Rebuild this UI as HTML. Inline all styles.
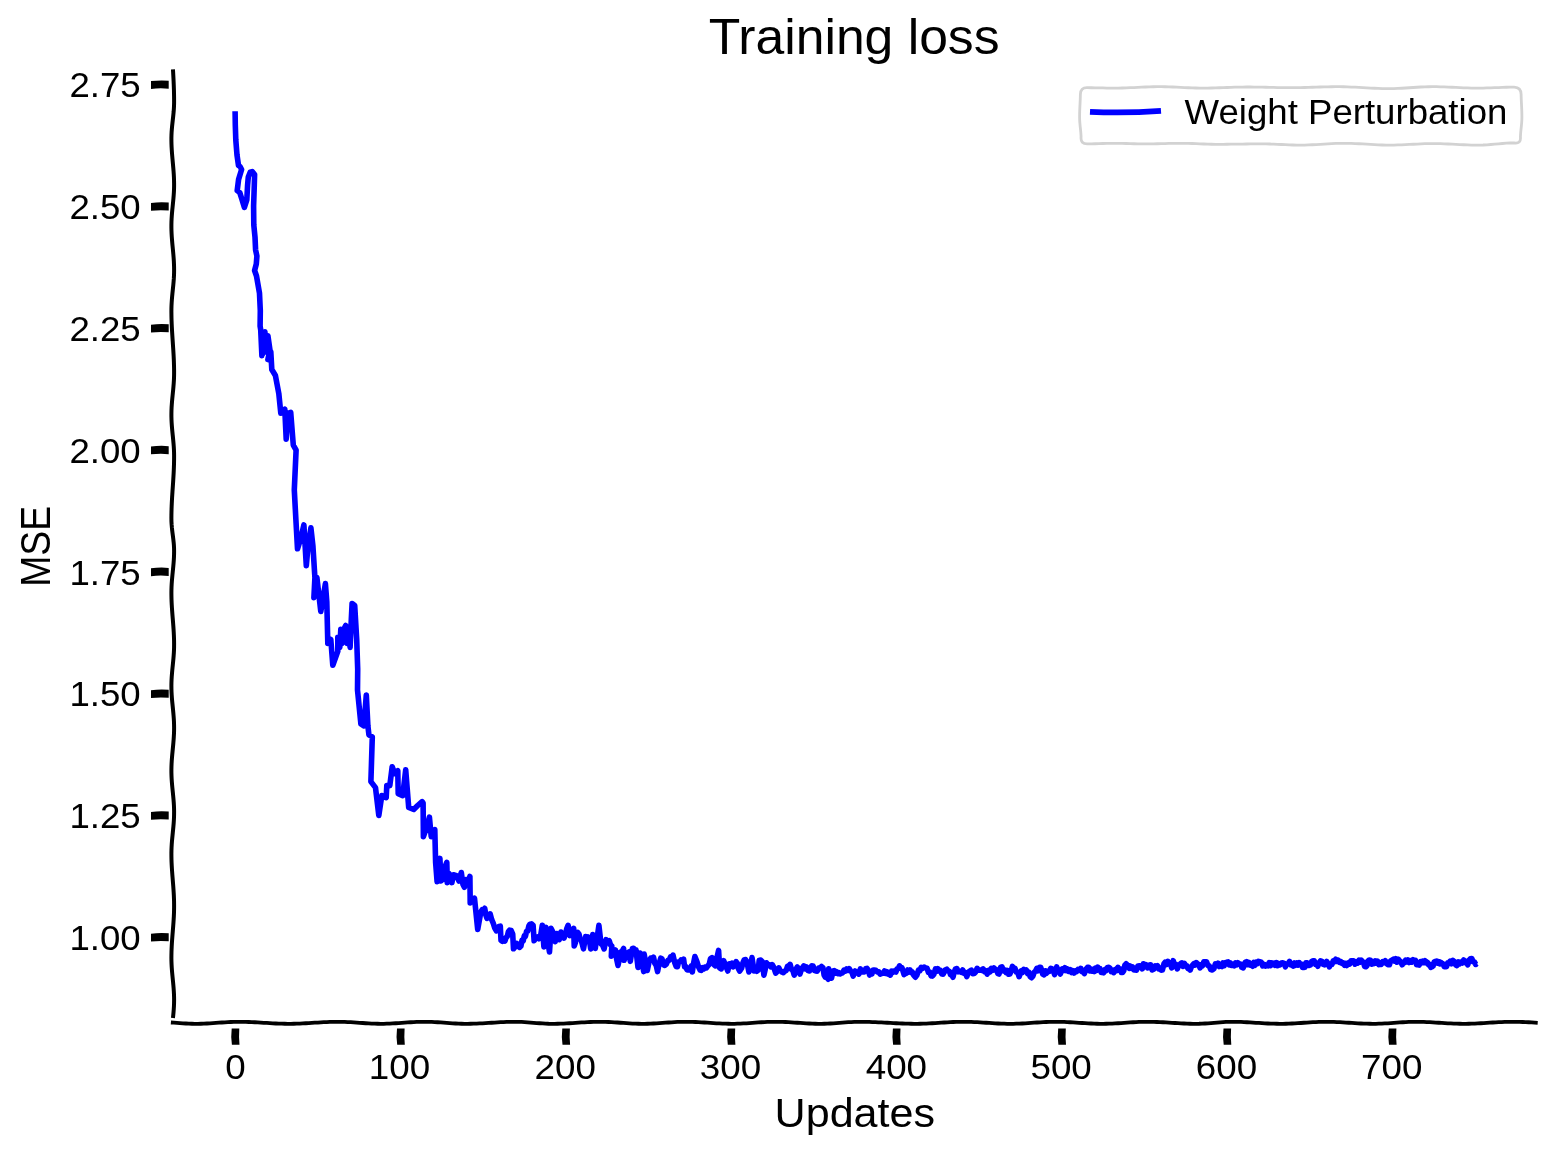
<!DOCTYPE html>
<html><head><meta charset="utf-8"><style>
html,body{margin:0;padding:0;background:#fff;width:1555px;height:1155px;overflow:hidden}
svg{display:block;will-change:transform}
.t{font-family:"Liberation Sans", sans-serif;fill:#000}
</style></head><body>
<svg width="1555" height="1155" viewBox="0 0 1555 1155">
<rect width="1555" height="1155" fill="#fff"/>
<path d="M172.96,69.4 L173.14,72.4 L173.30,75.4 L173.46,78.4 L173.60,81.4 L173.73,84.4 L173.84,87.4 L173.94,90.3 L174.01,93.3 L174.06,96.3 L174.09,99.3 L174.10,102.3 L174.04,105.3 L173.89,108.3 L173.68,111.3 L173.40,114.3 L173.09,117.3 L172.75,120.3 L172.42,123.3 L172.10,126.3 L171.83,129.2 L171.61,132.2 L171.47,135.2 L171.40,138.2 L171.42,141.2 L171.49,144.2 L171.61,147.2 L171.78,150.2 L171.99,153.2 L172.24,156.2 L172.50,159.2 L172.78,162.2 L173.05,165.2 L173.32,168.2 L173.55,171.1 L173.76,174.1 L173.92,177.1 L174.03,180.1 L174.09,183.1 L174.09,186.1 L174.03,189.1 L173.89,192.1 L173.70,195.1 L173.46,198.1 L173.18,201.1 L172.88,204.1 L172.58,207.1 L172.28,210.0 L172.00,213.0 L171.77,216.0 L171.59,219.0 L171.46,222.0 L171.40,225.0 L171.41,228.0 L171.48,231.0 L171.61,234.0 L171.79,237.0 L172.02,240.0 L172.27,243.0 L172.55,246.0 L172.84,248.9 L173.12,251.9 L173.39,254.9 L173.63,257.9 L173.83,260.9 L173.97,263.9 L174.07,266.9 L174.10,269.9 L174.07,272.9 L173.96,275.9 L173.80,278.9 L173.57,281.9 L173.31,284.9 L173.01,287.8 L172.70,290.8 L172.40,293.8 L172.11,296.8 L171.85,299.8 L171.65,302.8 L171.50,305.8 L171.42,308.8 L171.40,311.8 L171.43,314.8 L171.48,317.8 L171.57,320.8 L171.68,323.8 L171.81,326.7 L171.97,329.7 L172.15,332.7 L172.34,335.7 L172.53,338.7 L172.74,341.7 L172.94,344.7 L173.14,347.7 L173.33,350.7 L173.51,353.7 L173.67,356.7 L173.81,359.7 L173.92,362.7 L174.01,365.7 L174.07,368.6 L174.10,371.6 L174.09,374.6 L174.02,377.6 L173.88,380.6 L173.69,383.6 L173.45,386.6 L173.18,389.6 L172.88,392.6 L172.58,395.6 L172.28,398.6 L172.01,401.6 L171.78,404.6 L171.59,407.5 L171.47,410.5 L171.41,413.5 L171.41,416.5 L171.49,419.5 L171.63,422.5 L171.83,425.5 L172.07,428.5 L172.35,431.5 L172.65,434.5 L172.96,437.5 L173.25,440.5 L173.52,443.5 L173.75,446.4 L173.93,449.4 L174.05,452.4 L174.10,455.4 L174.09,458.4 L174.05,461.4 L173.99,464.4 L173.89,467.4 L173.77,470.4 L173.63,473.4 L173.46,476.4 L173.28,479.4 L173.09,482.4 L172.89,485.3 L172.69,488.3 L172.48,491.3 L172.29,494.3 L172.10,497.3 L171.93,500.3 L171.78,503.3 L171.65,506.3 L171.55,509.3 L171.47,512.3 L171.42,515.3 L171.40,518.3 L171.44,521.3 L171.60,524.2 L171.85,527.2 L172.17,530.2 L172.54,533.2 L172.94,536.2 L173.31,539.2 L173.64,542.2 L173.89,545.2 L174.05,548.2 L174.10,551.2 L174.06,554.2 L173.96,557.2 L173.79,560.2 L173.57,563.2 L173.31,566.1 L173.02,569.1 L172.72,572.1 L172.42,575.1 L172.14,578.1 L171.88,581.1 L171.67,584.1 L171.52,587.1 L171.43,590.1 L171.40,593.1 L171.43,596.1 L171.50,599.1 L171.61,602.1 L171.76,605.0 L171.94,608.0 L172.15,611.0 L172.37,614.0 L172.61,617.0 L172.86,620.0 L173.10,623.0 L173.33,626.0 L173.54,629.0 L173.72,632.0 L173.87,635.0 L173.99,638.0 L174.07,641.0 L174.10,643.9 L174.08,646.9 L174.00,649.9 L173.85,652.9 L173.64,655.9 L173.39,658.9 L173.11,661.9 L172.81,664.9 L172.50,667.9 L172.21,670.9 L171.95,673.9 L171.72,676.9 L171.55,679.9 L171.44,682.8 L171.40,685.8 L171.43,688.8 L171.52,691.8 L171.68,694.8 L171.89,697.8 L172.14,700.8 L172.43,703.8 L172.73,706.8 L173.03,709.8 L173.32,712.8 L173.58,715.8 L173.80,718.8 L173.96,721.7 L174.06,724.7 L174.10,727.7 L174.07,730.7 L173.98,733.7 L173.82,736.7 L173.62,739.7 L173.38,742.7 L173.10,745.7 L172.81,748.7 L172.52,751.7 L172.23,754.7 L171.98,757.7 L171.75,760.7 L171.58,763.6 L171.46,766.6 L171.40,769.6 L171.41,772.6 L171.49,775.6 L171.63,778.6 L171.83,781.6 L172.07,784.6 L172.35,787.6 L172.65,790.6 L172.96,793.6 L173.25,796.6 L173.52,799.6 L173.75,802.5 L173.93,805.5 L174.05,808.5 L174.10,811.5 L174.08,814.5 L174.00,817.5 L173.85,820.5 L173.65,823.5 L173.40,826.5 L173.11,829.5 L172.81,832.5 L172.51,835.5 L172.22,838.5 L171.95,841.4 L171.73,844.4 L171.56,847.4 L171.45,850.4 L171.40,853.4 L171.42,856.4 L171.47,859.4 L171.57,862.4 L171.71,865.4 L171.89,868.4 L172.09,871.4 L172.31,874.4 L172.55,877.4 L172.79,880.3 L173.03,883.3 L173.27,886.3 L173.48,889.3 L173.67,892.3 L173.84,895.3 L173.96,898.3 L174.05,901.3 L174.09,904.3 L174.09,907.3 L174.05,910.3 L173.97,913.3 L173.84,916.3 L173.68,919.2 L173.49,922.2 L173.27,925.2 L173.04,928.2 L172.80,931.2 L172.55,934.2 L172.32,937.2 L172.09,940.2 L171.89,943.2 L171.72,946.2 L171.58,949.2 L171.48,952.2 L171.42,955.2 L171.40,958.2 L171.44,961.1 L171.55,964.1 L171.71,967.1 L171.93,970.1 L172.19,973.1 L172.47,976.1 L172.77,979.1 L173.07,982.1 L173.35,985.1 L173.60,988.1 L173.81,991.1 L173.97,994.1 L174.07,997.1 L174.10,1000.0 L174.06,1003.0 L173.95,1006.0 L173.77,1009.0 L173.54,1012.0 L173.27,1015.0 L172.96,1018.0" stroke="#000" stroke-width="4.0" fill="none" stroke-linejoin="round"/>
<path d="M170.9,1022.50 L173.9,1022.71 L176.9,1022.93 L179.9,1023.14 L182.9,1023.34 L185.9,1023.51 L188.9,1023.65 L191.9,1023.74 L194.9,1023.79 L197.9,1023.79 L200.9,1023.75 L203.9,1023.66 L206.9,1023.52 L209.9,1023.36 L212.9,1023.16 L215.9,1022.95 L218.9,1022.73 L221.9,1022.51 L224.9,1022.31 L227.9,1022.13 L230.8,1021.99 L233.8,1021.88 L236.8,1021.82 L239.8,1021.80 L242.8,1021.83 L245.8,1021.88 L248.8,1021.98 L251.8,1022.10 L254.8,1022.25 L257.8,1022.42 L260.8,1022.60 L263.8,1022.79 L266.8,1022.97 L269.8,1023.16 L272.8,1023.33 L275.8,1023.48 L278.8,1023.61 L281.8,1023.70 L284.8,1023.77 L287.8,1023.80 L290.8,1023.79 L293.8,1023.75 L296.8,1023.67 L299.8,1023.57 L302.8,1023.43 L305.8,1023.27 L308.8,1023.10 L311.8,1022.91 L314.8,1022.72 L317.8,1022.54 L320.8,1022.36 L323.8,1022.20 L326.8,1022.06 L329.8,1021.94 L332.8,1021.86 L335.8,1021.81 L338.8,1021.80 L341.8,1021.83 L344.7,1021.91 L347.7,1022.03 L350.7,1022.19 L353.7,1022.38 L356.7,1022.59 L359.7,1022.81 L362.7,1023.02 L365.7,1023.23 L368.7,1023.42 L371.7,1023.58 L374.7,1023.70 L377.7,1023.77 L380.7,1023.80 L383.7,1023.78 L386.7,1023.71 L389.7,1023.60 L392.7,1023.45 L395.7,1023.27 L398.7,1023.07 L401.7,1022.85 L404.7,1022.63 L407.7,1022.42 L410.7,1022.23 L413.7,1022.06 L416.7,1021.93 L419.7,1021.85 L422.7,1021.80 L425.7,1021.81 L428.7,1021.86 L431.7,1021.96 L434.7,1022.10 L437.7,1022.27 L440.7,1022.47 L443.7,1022.69 L446.7,1022.91 L449.7,1023.12 L452.7,1023.32 L455.6,1023.49 L458.6,1023.63 L461.6,1023.73 L464.6,1023.79 L467.6,1023.80 L470.6,1023.77 L473.6,1023.70 L476.6,1023.60 L479.6,1023.46 L482.6,1023.31 L485.6,1023.13 L488.6,1022.94 L491.6,1022.75 L494.6,1022.55 L497.6,1022.37 L500.6,1022.21 L503.6,1022.06 L506.6,1021.94 L509.6,1021.86 L512.6,1021.81 L515.6,1021.80 L518.6,1021.84 L521.6,1021.95 L524.6,1022.10 L527.6,1022.30 L530.6,1022.53 L533.6,1022.77 L536.6,1023.02 L539.6,1023.25 L542.6,1023.46 L545.6,1023.62 L548.6,1023.74 L551.6,1023.79 L554.6,1023.79 L557.6,1023.75 L560.6,1023.67 L563.6,1023.55 L566.6,1023.41 L569.5,1023.24 L572.5,1023.05 L575.5,1022.86 L578.5,1022.66 L581.5,1022.46 L584.5,1022.28 L587.5,1022.12 L590.5,1021.99 L593.5,1021.89 L596.5,1021.83 L599.5,1021.80 L602.5,1021.82 L605.5,1021.88 L608.5,1021.99 L611.5,1022.14 L614.5,1022.32 L617.5,1022.52 L620.5,1022.73 L623.5,1022.95 L626.5,1023.17 L629.5,1023.36 L632.5,1023.53 L635.5,1023.66 L638.5,1023.75 L641.5,1023.80 L644.5,1023.79 L647.5,1023.74 L650.5,1023.65 L653.5,1023.51 L656.5,1023.34 L659.5,1023.14 L662.5,1022.93 L665.5,1022.71 L668.5,1022.49 L671.5,1022.29 L674.5,1022.12 L677.5,1021.97 L680.5,1021.87 L683.4,1021.81 L686.4,1021.80 L689.4,1021.83 L692.4,1021.91 L695.4,1022.02 L698.4,1022.16 L701.4,1022.33 L704.4,1022.52 L707.4,1022.72 L710.4,1022.92 L713.4,1023.12 L716.4,1023.31 L719.4,1023.47 L722.4,1023.61 L725.4,1023.71 L728.4,1023.77 L731.4,1023.80 L734.4,1023.78 L737.4,1023.72 L740.4,1023.61 L743.4,1023.47 L746.4,1023.30 L749.4,1023.10 L752.4,1022.89 L755.4,1022.68 L758.4,1022.47 L761.4,1022.27 L764.4,1022.11 L767.4,1021.97 L770.4,1021.87 L773.4,1021.81 L776.4,1021.80 L779.4,1021.83 L782.4,1021.91 L785.4,1022.02 L788.4,1022.17 L791.4,1022.35 L794.4,1022.54 L797.4,1022.75 L800.3,1022.96 L803.3,1023.16 L806.3,1023.34 L809.3,1023.51 L812.3,1023.64 L815.3,1023.73 L818.3,1023.79 L821.3,1023.80 L824.3,1023.76 L827.3,1023.66 L830.3,1023.51 L833.3,1023.33 L836.3,1023.11 L839.3,1022.88 L842.3,1022.64 L845.3,1022.41 L848.3,1022.20 L851.3,1022.03 L854.3,1021.90 L857.3,1021.82 L860.3,1021.80 L863.3,1021.82 L866.3,1021.86 L869.3,1021.93 L872.3,1022.03 L875.3,1022.15 L878.3,1022.28 L881.3,1022.44 L884.3,1022.60 L887.3,1022.76 L890.3,1022.93 L893.3,1023.10 L896.3,1023.25 L899.3,1023.40 L902.3,1023.52 L905.3,1023.63 L908.3,1023.71 L911.2,1023.77 L914.2,1023.80 L917.2,1023.80 L920.2,1023.76 L923.2,1023.68 L926.2,1023.57 L929.2,1023.43 L932.2,1023.26 L935.2,1023.07 L938.2,1022.88 L941.2,1022.68 L944.2,1022.48 L947.2,1022.30 L950.2,1022.14 L953.2,1022.00 L956.2,1021.90 L959.2,1021.83 L962.2,1021.80 L965.2,1021.81 L968.2,1021.86 L971.2,1021.94 L974.2,1022.06 L977.2,1022.21 L980.2,1022.38 L983.2,1022.57 L986.2,1022.77 L989.2,1022.97 L992.2,1023.16 L995.2,1023.34 L998.2,1023.49 L1001.2,1023.62 L1004.2,1023.72 L1007.2,1023.78 L1010.2,1023.80 L1013.2,1023.78 L1016.2,1023.72 L1019.2,1023.61 L1022.2,1023.48 L1025.2,1023.31 L1028.1,1023.12 L1031.1,1022.92 L1034.1,1022.71 L1037.1,1022.50 L1040.1,1022.31 L1043.1,1022.14 L1046.1,1022.00 L1049.1,1021.89 L1052.1,1021.82 L1055.1,1021.80 L1058.1,1021.82 L1061.1,1021.87 L1064.1,1021.97 L1067.1,1022.09 L1070.1,1022.25 L1073.1,1022.42 L1076.1,1022.61 L1079.1,1022.81 L1082.1,1023.01 L1085.1,1023.20 L1088.1,1023.37 L1091.1,1023.52 L1094.1,1023.64 L1097.1,1023.73 L1100.1,1023.79 L1103.1,1023.80 L1106.1,1023.77 L1109.1,1023.70 L1112.1,1023.59 L1115.1,1023.44 L1118.1,1023.27 L1121.1,1023.08 L1124.1,1022.87 L1127.1,1022.66 L1130.1,1022.46 L1133.1,1022.27 L1136.1,1022.11 L1139.0,1021.97 L1142.0,1021.87 L1145.0,1021.82 L1148.0,1021.80 L1151.0,1021.82 L1154.0,1021.89 L1157.0,1021.98 L1160.0,1022.11 L1163.0,1022.26 L1166.0,1022.43 L1169.0,1022.62 L1172.0,1022.81 L1175.0,1023.01 L1178.0,1023.19 L1181.0,1023.36 L1184.0,1023.51 L1187.0,1023.63 L1190.0,1023.73 L1193.0,1023.78 L1196.0,1023.80 L1199.0,1023.77 L1202.0,1023.66 L1205.0,1023.50 L1208.0,1023.29 L1211.0,1023.04 L1214.0,1022.78 L1217.0,1022.52 L1220.0,1022.28 L1223.0,1022.07 L1226.0,1021.92 L1229.0,1021.82 L1232.0,1021.80 L1235.0,1021.82 L1238.0,1021.88 L1241.0,1021.97 L1244.0,1022.10 L1247.0,1022.24 L1250.0,1022.41 L1253.0,1022.59 L1255.9,1022.78 L1258.9,1022.97 L1261.9,1023.15 L1264.9,1023.32 L1267.9,1023.48 L1270.9,1023.60 L1273.9,1023.70 L1276.9,1023.77 L1279.9,1023.80 L1282.9,1023.79 L1285.9,1023.74 L1288.9,1023.65 L1291.9,1023.52 L1294.9,1023.36 L1297.9,1023.18 L1300.9,1022.98 L1303.9,1022.77 L1306.9,1022.56 L1309.9,1022.37 L1312.9,1022.19 L1315.9,1022.04 L1318.9,1021.92 L1321.9,1021.84 L1324.9,1021.80 L1327.9,1021.81 L1330.9,1021.85 L1333.9,1021.93 L1336.9,1022.05 L1339.9,1022.20 L1342.9,1022.36 L1345.9,1022.55 L1348.9,1022.75 L1351.9,1022.95 L1354.9,1023.14 L1357.9,1023.32 L1360.9,1023.48 L1363.9,1023.61 L1366.8,1023.71 L1369.8,1023.77 L1372.8,1023.80 L1375.8,1023.78 L1378.8,1023.72 L1381.8,1023.61 L1384.8,1023.46 L1387.8,1023.28 L1390.8,1023.08 L1393.8,1022.86 L1396.8,1022.64 L1399.8,1022.43 L1402.8,1022.23 L1405.8,1022.07 L1408.8,1021.94 L1411.8,1021.85 L1414.8,1021.80 L1417.8,1021.81 L1420.8,1021.85 L1423.8,1021.93 L1426.8,1022.05 L1429.8,1022.19 L1432.8,1022.36 L1435.8,1022.55 L1438.8,1022.74 L1441.8,1022.94 L1444.8,1023.13 L1447.8,1023.31 L1450.8,1023.47 L1453.8,1023.61 L1456.8,1023.71 L1459.8,1023.77 L1462.8,1023.80 L1465.8,1023.79 L1468.8,1023.74 L1471.8,1023.66 L1474.8,1023.55 L1477.8,1023.41 L1480.8,1023.25 L1483.7,1023.07 L1486.7,1022.89 L1489.7,1022.70 L1492.7,1022.51 L1495.7,1022.33 L1498.7,1022.18 L1501.7,1022.04 L1504.7,1021.93 L1507.7,1021.85 L1510.7,1021.81 L1513.7,1021.80 L1516.7,1021.83 L1519.7,1021.89 L1522.7,1021.99 L1525.7,1022.11 L1528.7,1022.26 L1531.7,1022.43 L1534.7,1022.61 L1537.7,1022.80" stroke="#000" stroke-width="3.8" fill="none" stroke-linejoin="round"/>
<path d="M151,81.10 Q159.9,79.90 168.7,80.70 L168.7,88.70 Q159.9,87.90 151,88.90 Z" fill="#000"/>
<text transform="translate(69.42,97.40) scale(1.0400,1)" font-size="35.2" class="t">2.75</text>
<path d="M151,202.91 Q159.9,201.71 168.7,202.51 L168.7,210.51 Q159.9,209.71 151,210.71 Z" fill="#000"/>
<text transform="translate(69.42,219.21) scale(1.0400,1)" font-size="35.2" class="t">2.50</text>
<path d="M151,324.72 Q159.9,323.52 168.7,324.32 L168.7,332.32 Q159.9,331.52 151,332.52 Z" fill="#000"/>
<text transform="translate(69.42,341.02) scale(1.0400,1)" font-size="35.2" class="t">2.25</text>
<path d="M151,446.53 Q159.9,445.33 168.7,446.13 L168.7,454.13 Q159.9,453.33 151,454.33 Z" fill="#000"/>
<text transform="translate(69.42,462.83) scale(1.0400,1)" font-size="35.2" class="t">2.00</text>
<path d="M151,568.34 Q159.9,567.14 168.7,567.94 L168.7,575.94 Q159.9,575.14 151,576.14 Z" fill="#000"/>
<text transform="translate(69.42,584.64) scale(1.0400,1)" font-size="35.2" class="t">1.75</text>
<path d="M151,690.15 Q159.9,688.95 168.7,689.75 L168.7,697.75 Q159.9,696.95 151,697.95 Z" fill="#000"/>
<text transform="translate(69.42,706.45) scale(1.0400,1)" font-size="35.2" class="t">1.50</text>
<path d="M151,811.96 Q159.9,810.76 168.7,811.56 L168.7,819.56 Q159.9,818.76 151,819.76 Z" fill="#000"/>
<text transform="translate(69.42,828.26) scale(1.0400,1)" font-size="35.2" class="t">1.25</text>
<path d="M151,933.77 Q159.9,932.57 168.7,933.37 L168.7,941.37 Q159.9,940.57 151,941.57 Z" fill="#000"/>
<text transform="translate(69.42,950.07) scale(1.0400,1)" font-size="35.2" class="t">1.00</text>
<path d="M231.70,1028.6 Q230.70,1036.7 231.90,1044.8 L239.50,1044.8 Q238.70,1036.7 239.30,1028.6 Z" fill="#000"/>
<text transform="translate(225.37,1079.20) scale(1.0450,1)" font-size="35.2" class="t">0</text>
<path d="M397.00,1028.6 Q396.00,1036.7 397.20,1044.8 L404.80,1044.8 Q404.00,1036.7 404.60,1028.6 Z" fill="#000"/>
<text transform="translate(368.73,1079.20) scale(1.0450,1)" font-size="35.2" class="t">100</text>
<path d="M562.30,1028.6 Q561.30,1036.7 562.50,1044.8 L570.10,1044.8 Q569.30,1036.7 569.90,1028.6 Z" fill="#000"/>
<text transform="translate(534.55,1079.20) scale(1.0450,1)" font-size="35.2" class="t">200</text>
<path d="M727.60,1028.6 Q726.60,1036.7 727.80,1044.8 L735.40,1044.8 Q734.60,1036.7 735.20,1028.6 Z" fill="#000"/>
<text transform="translate(699.85,1079.20) scale(1.0450,1)" font-size="35.2" class="t">300</text>
<path d="M892.90,1028.6 Q891.90,1036.7 893.10,1044.8 L900.70,1044.8 Q899.90,1036.7 900.50,1028.6 Z" fill="#000"/>
<text transform="translate(865.67,1079.20) scale(1.0450,1)" font-size="35.2" class="t">400</text>
<path d="M1058.20,1028.6 Q1057.20,1036.7 1058.40,1044.8 L1066.00,1044.8 Q1065.20,1036.7 1065.80,1028.6 Z" fill="#000"/>
<text transform="translate(1030.45,1079.20) scale(1.0450,1)" font-size="35.2" class="t">500</text>
<path d="M1223.50,1028.6 Q1222.50,1036.7 1223.70,1044.8 L1231.30,1044.8 Q1230.50,1036.7 1231.10,1028.6 Z" fill="#000"/>
<text transform="translate(1195.75,1079.20) scale(1.0450,1)" font-size="35.2" class="t">600</text>
<path d="M1388.80,1028.6 Q1387.80,1036.7 1389.00,1044.8 L1396.60,1044.8 Q1395.80,1036.7 1396.40,1028.6 Z" fill="#000"/>
<text transform="translate(1361.05,1079.20) scale(1.0450,1)" font-size="35.2" class="t">700</text>
<path d="M235.1,111.2 L235.3,125.0 L235.8,140.0 L237.0,155.0 L238.5,165.5 L240.0,166.5 L241.6,169.5 L238.6,179.4 L237.2,190.6 L239.8,192.6 L241.8,199.0 L244.4,207.3 L246.8,200.0 L247.6,185.0 L248.3,177.0 L250.2,172.2 L252.2,171.6 L254.6,174.5 L254.3,185.0 L253.6,206.0 L253.8,225.0 L255.0,237.0 L255.6,250.0 L256.9,256.0 L256.3,264.0 L254.6,270.5 L256.5,276.0 L259.5,293.3 L260.3,310.6 L260.1,326.1 L260.7,329.7 L261.9,355.6 L263.3,335.7 L262.7,353.6 L264.9,331.7 L266.1,352.0 L267.9,335.7 L269.9,349.6 L267.9,359.6 L270.8,351.6 L271.8,369.5 L275.4,375.5 L278.8,393.4 L280.8,413.3 L284.8,409.3 L286.2,439.2 L287.8,413.3 L290.7,412.3 L293.3,445.1 L296.1,450.1 L294.3,490.0 L295.9,519.9 L297.5,548.8 L300.9,537.8 L303.9,524.9 L306.3,565.7 L307.9,547.8 L310.9,527.8 L312.9,545.8 L314.9,577.6 L313.9,597.6 L316.9,577.6 L320.8,611.5 L325.4,583.6 L326.8,601.6 L327.8,643.4 L330.8,639.4 L332.8,665.3 L337.8,651.4 L337.8,637.4 L339.8,647.4 L340.8,629.4 L342.2,643.4 L343.7,641.4 L344.7,627.5 L345.7,625.5 L347.3,643.4 L348.7,629.4 L350.1,647.4 L351.3,619.5 L352.1,603.5 L354.7,605.5 L356.7,639.4 L357.7,669.3 L357.5,690.0 L360.9,723.9 L363.9,725.9 L366.3,695.0 L367.9,725.9 L368.9,734.8 L372.3,736.8 L370.9,781.6 L375.5,787.6 L378.8,815.5 L381.8,795.6 L386.2,797.6 L386.8,785.6 L389.8,785.6 L392.2,766.7 L394.8,773.7 L397.8,770.7 L398.2,793.6 L402.7,795.6 L405.7,769.7 L408.7,807.5 L413.7,809.5 L417.7,805.5 L422.1,801.6 L423.1,803.1 L423.4,836.6 L427.0,826.5 L429.4,817.1 L431.2,836.6 L434.8,829.6 L435.6,862.3 L437.1,881.8 L438.4,865.5 L439.9,858.4 L441.0,881.0 L441.8,873.2 L443.4,879.5 L444.9,867.0 L446.8,862.3 L447.3,882.6 L448.8,873.2 L450.4,875.6 L451.9,882.6 L453.5,874.8 L456.6,875.6 L459.0,881.0 L461.3,872.5 L462.9,884.2 L464.4,887.3 L466.0,879.5 L468.3,884.2 L469.9,876.4 L470.2,902.9 L474.5,898.2 L477.7,929.4 L480.8,912.2 L482.1,909.8 L483.4,910.5 L484.7,908.3 L485.8,914.8 L487.0,918.4 L488.6,916.9 L490.1,913.8 L491.7,919.7 L493.2,923.1 L494.8,928.1 L496.4,930.9 L497.7,930.1 L499.0,926.5 L500.3,926.2 L501.0,940.3 L502.3,941.3 L503.6,939.6 L504.9,941.0 L506.1,937.5 L507.3,936.4 L508.4,931.7 L509.6,930.1 L511.2,930.5 L512.7,934.0 L513.5,948.8 L515.1,947.0 L516.6,943.4 L518.2,946.3 L519.7,947.3 L520.9,946.1 L522.0,940.4 L523.2,940.9 L524.3,935.9 L525.4,936.3 L526.6,931.2 L527.7,931.0 L528.9,925.8 L530.0,924.2 L531.5,923.9 L533.1,925.3 L534.1,940.7 L536.2,937.6 L537.5,936.8 L538.9,938.7 L540.3,937.6 L542.3,925.3 L543.9,946.9 L545.9,927.3 L547.1,934.0 L548.3,944.7 L549.5,952.0 L551.1,928.4 L552.6,931.4 L553.9,937.9 L555.2,941.7 L556.8,933.5 L558.0,935.2 L559.3,939.7 L560.9,932.0 L562.4,936.2 L564.0,938.1 L565.3,935.2 L566.7,928.8 L568.1,925.3 L570.1,935.6 L571.3,933.9 L572.5,929.8 L573.7,928.4 L574.2,945.9 L575.4,942.8 L576.6,935.8 L577.8,932.5 L579.0,934.2 L580.2,939.3 L581.4,940.7 L583.5,948.9 L585.6,936.6 L586.8,938.5 L588.0,936.9 L589.2,938.6 L590.7,948.9 L592.8,934.5 L594.1,939.9 L595.3,948.4 L596.5,939.2 L597.7,934.0 L598.9,925.3 L601.0,943.8 L602.5,945.0 L604.1,948.9 L606.1,939.7 L607.7,941.5 L609.2,940.7 L610.5,944.9 L611.8,945.9 L611.3,956.1 L612.7,952.6 L614.0,953.1 L615.4,950.0 L616.7,959.5 L618.0,965.4 L619.3,959.6 L620.5,952.0 L622.1,951.4 L623.6,948.4 L624.1,960.3 L625.3,956.7 L626.5,957.0 L627.6,952.8 L628.8,952.0 L630.3,961.3 L632.4,948.4 L633.6,948.2 L634.8,950.9 L636.0,950.0 L638.0,967.5 L640.1,953.1 L641.3,960.8 L642.5,964.1 L643.7,971.6 L644.2,954.1 L645.8,964.0 L647.3,970.5 L649.4,960.3 L650.7,958.2 L652.1,959.7 L653.5,957.2 L654.8,963.3 L656.2,965.4 L657.6,971.6 L659.1,963.7 L660.7,958.2 L662.0,959.0 L663.4,964.7 L664.8,965.4 L666.3,964.1 L667.9,960.3 L669.2,960.4 L670.5,956.9 L671.7,957.9 L673.0,955.1 L674.6,962.2 L676.1,966.4 L677.4,966.7 L678.7,961.7 L680.0,961.7 L681.2,959.9 L682.4,961.2 L683.6,959.2 L684.6,966.9 L685.8,966.5 L687.0,969.7 L688.2,970.0 L689.8,969.1 L691.3,965.9 L692.3,972.0 L693.6,963.4 L694.9,956.6 L697.0,961.7 L698.5,966.7 L700.1,970.0 L701.3,970.4 L702.5,967.7 L703.7,968.9 L705.0,967.1 L706.4,967.9 L707.8,965.9 L709.2,964.3 L710.5,958.7 L711.9,957.6 L714.0,964.8 L715.5,965.9 L717.0,957.3 L718.6,950.4 L719.6,967.9 L721.2,968.9 L722.4,963.6 L723.7,960.7 L725.8,965.9 L727.8,971.0 L729.4,963.8 L730.7,965.6 L732.0,963.1 L733.2,966.9 L734.5,965.9 L736.1,961.7 L737.3,963.2 L738.5,968.9 L739.7,971.0 L741.7,967.9 L743.0,962.6 L744.3,959.7 L745.6,959.6 L746.9,961.7 L748.9,972.0 L750.5,966.5 L752.0,957.6 L754.1,971.0 L755.5,968.9 L756.8,971.2 L758.2,970.0 L759.2,960.2 L760.8,960.1 L762.3,961.7 L763.9,975.1 L765.1,969.9 L766.4,962.8 L768.0,964.8 L769.5,964.8 L770.9,966.8 L772.3,964.8 L773.6,966.9 L775.7,973.1 L777.2,971.5 L778.8,967.9 L780.3,970.7 L781.9,972.0 L783.4,972.7 L785.0,971.0 L786.2,970.4 L787.5,966.3 L788.8,967.7 L790.1,964.3 L791.5,969.4 L792.8,970.2 L794.2,975.1 L795.8,969.6 L797.3,966.9 L798.6,969.0 L799.9,974.1 L801.2,970.2 L802.4,967.9 L803.8,965.9 L805.2,968.8 L806.6,966.9 L808.1,970.6 L809.6,971.0 L811.7,965.9 L813.1,966.0 L814.4,970.4 L815.8,971.0 L817.2,971.1 L818.6,968.1 L819.9,967.9 L821.5,966.5 L823.0,967.9 L824.1,975.1 L825.4,977.3 L826.8,977.1 L828.2,979.2 L828.7,968.9 L830.0,974.1 L831.5,978.2 L833.1,971.0 L834.2,970.7 L835.4,973.2 L836.6,971.8 L837.7,973.6 L838.9,972.6 L840.1,973.9 L841.3,973.1 L842.6,972.9 L843.9,970.2 L845.2,971.1 L846.5,968.9 L847.8,970.4 L849.2,968.6 L850.6,971.0 L851.9,972.2 L853.2,976.1 L855.2,971.0 L856.4,972.9 L857.6,972.1 L858.8,974.1 L860.4,968.9 L861.6,971.6 L862.9,972.0 L864.3,971.9 L865.7,968.8 L867.0,968.4 L868.3,970.1 L869.6,975.1 L870.8,972.0 L871.9,973.8 L873.1,970.0 L874.2,970.0 L875.8,970.2 L877.3,972.0 L878.7,971.7 L880.1,974.1 L881.4,973.6 L883.0,973.3 L884.5,971.0 L885.7,973.4 L886.8,971.6 L888.0,974.1 L889.2,974.1 L890.3,975.1 L891.5,971.2 L892.6,972.6 L893.8,971.0 L895.9,972.0 L897.1,968.7 L898.3,968.7 L899.5,965.9 L900.7,968.2 L902.0,967.9 L904.1,974.6 L905.3,971.3 L906.5,973.2 L907.7,970.0 L908.8,972.0 L910.0,970.0 L911.2,972.6 L912.3,972.0 L913.9,975.5 L915.4,977.2 L916.9,975.1 L918.5,970.0 L919.9,970.7 L921.2,967.4 L922.6,968.4 L924.1,967.1 L925.7,967.9 L927.1,968.3 L928.4,972.3 L929.8,972.0 L931.1,975.9 L932.4,976.1 L933.9,974.2 L935.5,968.9 L936.7,971.2 L937.9,968.7 L939.1,971.0 L940.4,970.5 L941.8,974.0 L943.2,974.1 L945.2,970.0 L946.8,969.2 L948.3,971.0 L949.5,971.4 L950.6,974.8 L951.8,974.9 L953.0,977.2 L954.2,972.0 L955.5,968.9 L956.9,968.6 L958.3,971.8 L959.6,971.0 L961.2,972.2 L962.7,970.0 L964.1,973.4 L965.5,972.7 L966.8,976.7 L968.4,972.0 L969.9,971.0 L971.3,970.1 L972.7,973.8 L974.1,973.6 L975.6,972.0 L977.1,968.4 L978.6,970.2 L980.0,970.0 L981.5,970.4 L983.1,968.9 L984.5,971.6 L985.8,971.0 L987.2,974.1 L988.6,970.5 L989.9,971.9 L991.3,968.4 L992.7,970.2 L994.1,968.0 L995.4,970.0 L996.6,969.8 L997.8,973.5 L999.0,974.1 L1000.6,967.4 L1002.0,966.8 L1003.3,970.8 L1004.7,970.0 L1006.0,972.6 L1007.3,970.5 L1008.6,974.3 L1009.8,974.1 L1011.1,971.1 L1012.4,966.4 L1013.7,969.0 L1015.0,968.4 L1016.4,972.2 L1017.7,972.3 L1019.1,976.7 L1021.2,971.0 L1022.4,972.5 L1023.7,969.3 L1025.0,971.4 L1026.3,970.0 L1027.6,973.6 L1028.9,972.3 L1030.2,976.7 L1031.4,977.7 L1032.8,976.3 L1034.2,972.3 L1035.6,971.0 L1036.8,968.4 L1038.1,970.8 L1039.4,967.4 L1040.7,967.4 L1042.8,974.1 L1044.1,974.9 L1045.3,970.8 L1046.6,973.2 L1047.9,971.0 L1049.3,971.4 L1050.7,968.3 L1052.0,968.9 L1053.3,970.9 L1054.6,974.6 L1056.7,966.9 L1057.9,970.0 L1059.1,969.9 L1060.3,974.1 L1062.3,968.9 L1063.6,970.4 L1064.9,967.7 L1066.2,970.7 L1067.5,968.9 L1068.8,971.3 L1070.2,969.7 L1071.6,972.5 L1072.9,970.7 L1074.1,973.0 L1075.4,970.8 L1076.7,971.5 L1078.1,969.4 L1079.5,970.4 L1080.8,968.4 L1082.0,971.5 L1083.2,970.9 L1084.4,973.6 L1086.0,969.3 L1087.5,967.4 L1088.7,967.4 L1089.8,970.9 L1091.0,969.0 L1092.2,971.0 L1093.3,969.4 L1094.4,971.5 L1095.5,968.0 L1096.6,970.5 L1097.7,967.1 L1098.8,968.4 L1100.0,968.5 L1101.2,972.5 L1102.4,972.5 L1103.7,972.8 L1104.9,969.7 L1106.1,970.6 L1107.4,967.5 L1108.6,967.4 L1109.9,968.0 L1111.2,971.6 L1112.5,970.3 L1113.8,972.5 L1115.1,969.6 L1116.5,970.6 L1117.9,967.4 L1119.0,970.0 L1120.2,968.9 L1121.4,972.5 L1122.5,972.5 L1123.7,970.9 L1124.9,965.1 L1126.1,963.8 L1127.7,965.3 L1129.2,968.4 L1130.0,965.9 L1131.3,968.2 L1132.6,966.9 L1133.9,970.0 L1135.1,970.0 L1136.5,970.1 L1137.9,966.0 L1139.3,965.9 L1140.8,966.1 L1142.3,968.9 L1143.4,963.8 L1144.7,966.7 L1146.1,964.8 L1147.5,967.9 L1149.0,965.2 L1150.6,964.8 L1152.1,970.0 L1153.7,969.3 L1155.2,965.9 L1156.4,967.6 L1157.5,965.6 L1158.7,968.9 L1159.8,967.9 L1161.1,970.1 L1162.4,970.0 L1164.0,963.8 L1165.2,962.2 L1166.5,964.5 L1167.8,961.3 L1169.1,962.8 L1170.4,963.9 L1171.7,967.9 L1173.2,960.7 L1174.6,965.1 L1176.0,964.5 L1177.3,968.9 L1178.9,965.4 L1180.4,963.8 L1181.7,962.9 L1183.0,966.3 L1184.3,963.3 L1185.6,965.3 L1186.7,965.6 L1187.9,968.5 L1189.0,967.6 L1190.2,970.0 L1191.5,966.6 L1192.8,964.8 L1193.9,963.6 L1195.1,965.1 L1196.2,962.6 L1197.4,963.8 L1198.7,964.3 L1200.0,967.9 L1201.3,964.7 L1202.5,965.7 L1203.8,961.8 L1205.1,961.7 L1206.5,961.7 L1207.9,965.4 L1209.2,965.9 L1210.8,969.6 L1212.3,970.0 L1213.9,968.6 L1215.4,963.8 L1216.7,965.3 L1218.0,963.1 L1219.3,966.5 L1220.5,965.9 L1221.8,966.5 L1223.0,962.8 L1224.3,965.6 L1225.5,962.5 L1226.7,962.8 L1228.0,962.0 L1229.2,964.9 L1230.4,962.9 L1231.7,965.3 L1232.9,964.8 L1234.1,965.7 L1235.4,962.9 L1236.6,964.9 L1237.8,962.7 L1239.1,963.8 L1240.4,964.0 L1241.8,967.3 L1243.2,967.9 L1245.2,962.3 L1246.5,961.7 L1247.7,964.7 L1248.9,962.5 L1250.2,965.1 L1251.4,964.8 L1252.6,966.2 L1253.8,962.4 L1254.9,965.3 L1256.1,962.2 L1257.3,963.6 L1258.5,961.4 L1259.6,961.7 L1261.2,962.2 L1262.7,965.9 L1264.1,964.5 L1265.5,966.0 L1266.8,964.8 L1268.0,965.7 L1269.2,962.6 L1270.5,965.7 L1271.7,962.8 L1272.9,964.4 L1274.1,963.3 L1275.2,965.3 L1276.4,962.6 L1277.6,965.7 L1278.8,963.7 L1280.0,964.8 L1281.4,963.0 L1282.7,962.8 L1284.1,963.4 L1285.4,966.8 L1286.8,963.9 L1288.1,964.0 L1289.5,961.4 L1290.8,964.9 L1292.2,964.8 L1293.3,966.1 L1294.5,963.0 L1295.6,965.3 L1296.8,962.8 L1297.9,965.1 L1299.1,962.6 L1300.3,964.1 L1301.4,964.1 L1302.5,967.5 L1303.6,967.5 L1304.8,967.3 L1305.9,962.7 L1307.0,962.8 L1309.0,965.5 L1310.4,964.9 L1311.7,961.5 L1313.1,960.8 L1314.3,960.8 L1315.5,964.5 L1316.6,964.0 L1317.8,966.2 L1319.2,962.6 L1320.5,960.8 L1321.9,961.3 L1323.2,964.4 L1324.6,964.8 L1326.6,961.4 L1327.9,963.1 L1329.3,966.8 L1330.6,963.8 L1332.0,964.3 L1333.3,960.8 L1334.5,961.6 L1335.7,959.2 L1336.9,961.2 L1338.1,960.1 L1339.4,962.3 L1340.8,961.6 L1342.1,963.5 L1343.3,963.0 L1344.5,965.2 L1345.7,963.5 L1346.8,965.5 L1348.2,963.0 L1349.5,964.1 L1350.9,960.7 L1352.3,960.8 L1353.6,960.7 L1355.0,964.1 L1356.3,962.0 L1357.7,963.1 L1359.0,960.1 L1360.1,962.0 L1361.3,960.2 L1362.4,962.1 L1363.5,962.1 L1364.6,966.4 L1365.8,966.8 L1366.9,965.9 L1368.0,960.9 L1369.1,960.1 L1370.5,960.3 L1371.8,964.1 L1373.0,961.9 L1374.1,963.5 L1375.2,960.8 L1376.4,963.1 L1377.6,961.1 L1378.8,964.5 L1379.9,964.1 L1381.3,964.4 L1382.6,961.7 L1384.0,962.5 L1385.3,960.8 L1386.7,963.6 L1388.0,964.8 L1389.4,964.8 L1390.7,960.7 L1392.1,960.1 L1393.3,959.3 L1394.6,961.1 L1395.8,958.8 L1397.0,962.2 L1398.3,959.2 L1399.5,960.8 L1400.9,961.8 L1402.2,964.8 L1403.3,962.3 L1404.5,962.7 L1405.6,960.1 L1406.8,961.7 L1408.0,960.0 L1409.2,962.5 L1410.5,960.7 L1411.7,962.1 L1413.0,959.7 L1414.4,960.8 L1415.5,960.4 L1416.6,964.8 L1417.7,964.8 L1419.1,965.1 L1420.5,961.7 L1421.8,962.8 L1422.9,961.1 L1424.1,962.6 L1425.2,960.8 L1426.3,962.8 L1427.4,962.3 L1428.6,964.8 L1429.7,964.3 L1430.8,967.4 L1431.9,966.8 L1433.1,966.0 L1434.2,962.0 L1435.3,961.4 L1436.4,961.1 L1437.6,963.1 L1438.7,961.6 L1439.8,963.9 L1440.9,962.4 L1442.1,963.5 L1443.2,963.9 L1444.3,966.8 L1445.4,966.8 L1446.6,966.5 L1447.7,962.8 L1448.8,962.8 L1450.2,961.2 L1451.5,963.7 L1452.9,960.4 L1454.2,961.4 L1455.6,964.8 L1456.9,965.6 L1458.3,961.8 L1459.6,963.9 L1461.0,962.1 L1462.3,963.0 L1463.7,960.0 L1465.0,962.5 L1466.4,961.4 L1467.7,964.8 L1469.1,960.3 L1470.4,958.7 L1471.8,958.5 L1473.1,961.8 L1474.5,962.1 L1475.7,964.4 L1476.9,963.5" stroke="#0000ff" stroke-width="5.6" fill="none" stroke-linejoin="round" stroke-linecap="butt"/>
<path d="M1087.4,87.71 L1091.3,87.75 L1095.2,87.81 L1099.0,87.89 L1102.9,87.97 L1106.8,88.04 L1110.7,88.08 L1114.6,88.10 L1118.4,88.07 L1122.3,87.99 L1126.2,87.87 L1130.1,87.71 L1133.9,87.53 L1137.8,87.34 L1141.7,87.15 L1145.6,86.98 L1149.5,86.84 L1153.3,86.75 L1157.2,86.70 L1161.1,86.71 L1165.0,86.77 L1168.9,86.87 L1172.7,87.02 L1176.6,87.19 L1180.5,87.38 L1184.4,87.57 L1188.3,87.75 L1192.1,87.90 L1196.0,88.02 L1199.9,88.08 L1203.8,88.10 L1207.7,88.07 L1211.5,88.00 L1215.4,87.90 L1219.3,87.77 L1223.2,87.63 L1227.0,87.48 L1230.9,87.34 L1234.8,87.21 L1238.7,87.10 L1242.6,87.03 L1246.4,87.00 L1250.3,87.01 L1254.2,87.04 L1258.1,87.09 L1262.0,87.17 L1265.8,87.26 L1269.7,87.35 L1273.6,87.45 L1277.5,87.53 L1281.4,87.61 L1285.2,87.66 L1289.1,87.69 L1293.0,87.70 L1296.9,87.67 L1300.8,87.61 L1304.6,87.52 L1308.5,87.40 L1312.4,87.27 L1316.3,87.14 L1320.1,87.01 L1324.0,86.89 L1327.9,86.80 L1331.8,86.73 L1335.7,86.70 L1339.5,86.71 L1343.4,86.77 L1347.3,86.88 L1351.2,87.03 L1355.1,87.22 L1358.9,87.43 L1362.8,87.65 L1366.7,87.87 L1370.6,88.08 L1374.5,88.27 L1378.3,88.42 L1382.2,88.53 L1386.1,88.59 L1390.0,88.60 L1393.8,88.54 L1397.7,88.41 L1401.6,88.23 L1405.5,88.00 L1409.4,87.75 L1413.2,87.49 L1417.1,87.24 L1421.0,87.02 L1424.9,86.85 L1428.8,86.74 L1432.6,86.70 L1436.5,86.72 L1440.4,86.79 L1444.3,86.91 L1448.2,87.06 L1452.0,87.24 L1455.9,87.43 L1459.8,87.62 L1463.7,87.79 L1467.6,87.93 L1471.4,88.04 L1475.3,88.09 L1479.2,88.10 L1483.1,88.05 L1486.9,87.96 L1490.8,87.83 L1494.7,87.68 L1498.6,87.53 L1502.5,87.38 L1506.3,87.25 L1510.2,87.15 L1514.1,87.11 Q1521.1,87.4 1521.12,94.4 L1521.16,96.53 L1521.23,98.66 L1521.32,100.79 L1521.42,102.92 L1521.53,105.05 L1521.63,107.18 L1521.73,109.31 L1521.81,111.44 L1521.86,113.57 L1521.89,115.70 L1521.89,117.83 L1521.83,119.96 L1521.71,122.09 L1521.54,124.22 L1521.33,126.35 L1521.10,128.48 L1520.88,130.61 L1520.68,132.74 L1520.53,134.87 L1520.43,137.00 Q1521.1,144.0 1514.10,142.9 L1510.22,143.02 L1506.34,143.22 L1502.46,143.51 L1498.58,143.84 L1494.70,144.18 L1490.83,144.51 L1486.95,144.79 L1483.07,144.99 L1479.19,145.09 L1475.31,145.09 L1471.43,145.03 L1467.55,144.92 L1463.67,144.77 L1459.79,144.59 L1455.91,144.39 L1452.03,144.18 L1448.16,143.99 L1444.28,143.83 L1440.40,143.70 L1436.52,143.62 L1432.64,143.60 L1428.76,143.63 L1424.88,143.72 L1421.00,143.86 L1417.12,144.03 L1413.24,144.23 L1409.36,144.44 L1405.49,144.64 L1401.61,144.82 L1397.73,144.96 L1393.85,145.06 L1389.97,145.10 L1386.09,145.08 L1382.21,145.00 L1378.33,144.86 L1374.45,144.67 L1370.57,144.45 L1366.69,144.21 L1362.82,143.97 L1358.94,143.75 L1355.06,143.56 L1351.18,143.41 L1347.30,143.32 L1343.42,143.30 L1339.54,143.35 L1335.66,143.45 L1331.78,143.62 L1327.90,143.83 L1324.02,144.07 L1320.15,144.32 L1316.27,144.56 L1312.39,144.77 L1308.51,144.94 L1304.63,145.05 L1300.75,145.10 L1296.87,145.08 L1292.99,145.00 L1289.11,144.87 L1285.23,144.71 L1281.35,144.52 L1277.48,144.33 L1273.60,144.16 L1269.72,144.02 L1265.84,143.93 L1261.96,143.90 L1258.08,143.91 L1254.20,143.93 L1250.32,143.97 L1246.44,144.01 L1242.56,144.06 L1238.68,144.12 L1234.81,144.17 L1230.93,144.22 L1227.05,144.26 L1223.17,144.29 L1219.29,144.30 L1215.41,144.29 L1211.53,144.23 L1207.65,144.12 L1203.77,143.98 L1199.89,143.82 L1196.01,143.65 L1192.14,143.51 L1188.26,143.39 L1184.38,143.32 L1180.50,143.30 L1176.62,143.32 L1172.74,143.37 L1168.86,143.45 L1164.98,143.54 L1161.10,143.64 L1157.22,143.73 L1153.34,143.81 L1149.47,143.87 L1145.59,143.90 L1141.71,143.89 L1137.83,143.84 L1133.95,143.74 L1130.07,143.63 L1126.19,143.51 L1122.31,143.40 L1118.43,143.33 L1114.55,143.30 L1110.67,143.32 L1106.80,143.39 L1102.92,143.50 L1099.04,143.62 L1095.16,143.74 L1091.28,143.83 L1087.40,143.89 Q1080.4,144.0 1081.07,137.0 L1080.97,134.87 L1080.82,132.74 L1080.62,130.61 L1080.40,128.48 L1080.17,126.35 L1079.96,124.22 L1079.79,122.09 L1079.67,119.96 L1079.61,117.83 L1079.61,115.70 L1079.64,113.57 L1079.69,111.44 L1079.77,109.31 L1079.87,107.18 L1079.97,105.05 L1080.08,102.92 L1080.18,100.79 L1080.27,98.66 L1080.34,96.53 L1080.38,94.40 Q1080.4,87.4 1087.4,87.71 Z" fill="#fff" stroke="#d2d2d2" stroke-width="2.8" stroke-linejoin="round"/>
<path d="M1090,111.8 Q1125,113.5 1161,110.8" stroke="#0000ff" stroke-width="5.8" fill="none"/>
<text transform="translate(1184.60,123.90) scale(1.0310,1)" font-size="35.5" class="t">Weight Perturbation</text>
<text transform="translate(708.68,54.00) scale(1.0250,1)" font-size="50.4" class="t">Training loss</text>
<text transform="translate(774.59,1127.00) scale(1.0380,1)" font-size="41.5" class="t">Updates</text>
<text transform="translate(50.3,586.87) rotate(-90) scale(0.8907,1)" font-size="42" class="t">MSE</text>
</svg>
</body></html>
